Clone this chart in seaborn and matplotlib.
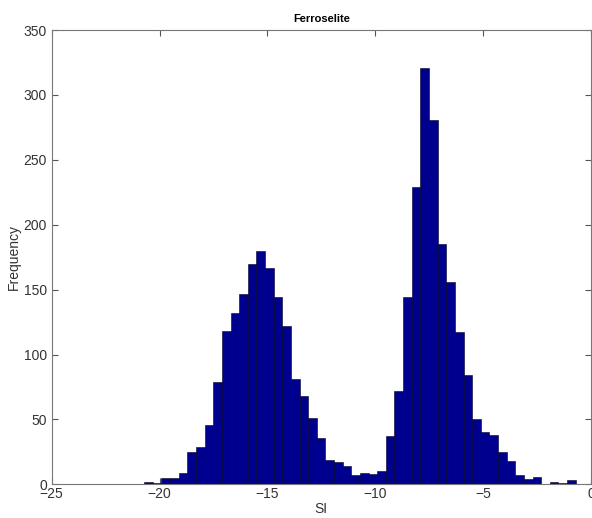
import numpy as np
import pandas as pd
import matplotlib
matplotlib.use("Agg")
import matplotlib.pyplot as plt
import seaborn as sns

# ======================================================
# data (50 bins, width 0.4)
# ======================================================
bin_start = -20.71
bin_width = 0.4
counts = [
    2, 1, 5, 5, 9, 25, 29, 46, 79, 118,
    132, 147, 170, 180, 167, 144, 122, 81, 68, 51,
    36, 19, 17, 14, 7, 9, 8, 10, 37, 72,
    144, 229, 321, 281, 185, 156, 117, 84, 50, 40,
    38, 25, 18, 7, 4, 6, 0, 2, 1, 3,
]
x_ticks = [-25, -20, -15, -10, -5, 0]
y_ticks = [0, 50, 100, 150, 200, 250, 300, 350]

n_bins = len(counts)
bin_end = bin_start + bin_width * n_bins
df = pd.DataFrame({
    "SI": bin_start + bin_width * (np.arange(n_bins) + 0.5),
    "count": counts,
})

# ======================================================
# style
# ======================================================
sns.set_style("ticks")
plt.rcParams["font.family"] = ["Liberation Sans", "DejaVu Sans"]

fig = plt.figure(figsize=(5.92, 5.18), dpi=100)
ax = fig.add_axes([0.0873, 0.065, 0.911, 0.877])

sns.histplot(
    data=df,
    x="SI",
    weights="count",
    bins=n_bins,
    binrange=(bin_start, bin_end),
    color="#00008F",
    alpha=1,
    edgecolor="#000022",
    linewidth=0.4,
    ax=ax,
)

ax.set_xlim(-25, 0)
ax.set_ylim(0, 350)
ax.set_xticks(x_ticks)
ax.set_yticks(y_ticks)
ax.tick_params(direction="in", length=4, width=0.8, colors="#555555",
               labelcolor="#333333", labelsize=10, top=True, right=True)
ax.tick_params(axis="x", pad=2)
for s in ax.spines.values():
    s.set_visible(True)
    s.set_color("#777777")
    s.set_linewidth(0.8)

ax.set_title("Ferroselite", fontsize=8, fontweight="bold", pad=6, color="black")
ax.set_xlabel("SI", fontsize=10, labelpad=1, color="#333333")
ax.set_ylabel("Frequency", fontsize=10, labelpad=2, color="#333333")

fig.savefig("out.png", dpi=100)
